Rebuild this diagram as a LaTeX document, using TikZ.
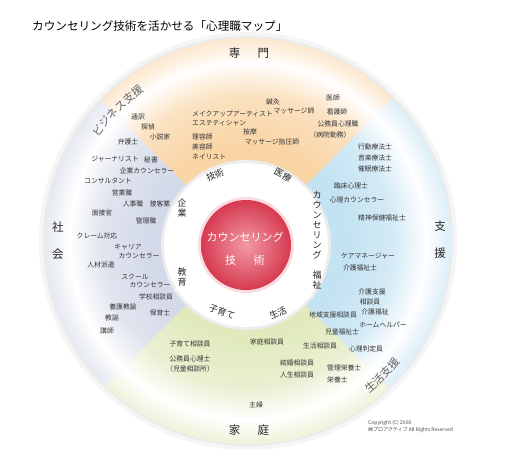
\documentclass[tikz,border=0pt]{standalone}
\usepackage{fontspec}
\setmainfont{Noto Sans CJK JP}
\usetikzlibrary{positioning,decorations.text}

\definecolor{senmon}{HTML}{F9D5A6}
\definecolor{shien}{HTML}{C3E2F2}
\definecolor{katei}{HTML}{E0EABD}
\definecolor{shakai}{HTML}{D3D9E8}
\definecolor{textgray}{HTML}{333333}
\definecolor{redin}{HTML}{F29AA6}
\definecolor{redout}{HTML}{D63A50}

% radial fill of one field: strong near the core, white at the rim, tinted band
\newcommand{\fieldshade}[2]{%
  \pgfdeclareradialshading{#1}{\pgfpoint{0bp}{0bp}}{%
    color(0bp)=(#2); color(12bp)=(#2); color(18bp)=(#2!70!white);
    color(21.4bp)=(#2!12!white); color(22bp)=(white);
    color(24bp)=(#2!40!white); color(25bp)=(#2!55!white); color(50bp)=(white)}}
\fieldshade{senmon-sh}{senmon}
\fieldshade{shien-sh}{shien}
\fieldshade{katei-sh}{katei}
\fieldshade{shakai-sh}{shakai}
\newcommand{\bandfont}{\fontsize{11}{12}\selectfont}

\begin{document}
\begin{tikzpicture}
  [x=1pt,y=-1pt,
   job/.style={font=\fontsize{6.8}{7.5}\selectfont,text=textgray,inner sep=0pt},
   cat/.style={font=\fontsize{11.5}{27}\selectfont,text=black!85,align=center,inner sep=0pt},
   ringlab/.style={font=\fontsize{9}{10}\selectfont,text=black!85,align=center,inner sep=0pt},
   core/.style={font=\fontsize{11}{23}\selectfont,text=white,align=center,inner sep=0pt},
   bandtext/.style={decorate,decoration={text along path,text align=center,
     text color=black!60,text={|\bandfont|#1}}}]

  \useasboundingbox[fill=white] (0,0) rectangle (512,448);
  \coordinate (C) at (248,241);
  \coordinate (K) at (246,245);

  % soft shadow round the map
  \fill[black!4] (C) circle (209);
  \fill[black!8] (C) circle (205);

  % four fields
  \foreach \f/\a in {senmon/-90,shien/0,katei/90,shakai/180}{
    \begin{scope}
      \clip (K) -- +({\a-45}:400) -- +({\a+45}:400) -- cycle;
      \shade[shading=\f-sh] (C) circle (203);
    \end{scope}
  }
  \draw[white,line width=1.5pt] (C) circle (178);

  % inner ring and core
  \fill[black!7] (K) circle (85);
  \fill[white] (K) circle (82);
  \fill[redout!18] (K) circle (48);
  \shade[inner color=redin,outer color=redout] (K) circle (45);

  \node[font=\fontsize{11.6}{13}\selectfont,anchor=west,inner sep=0pt] (title) at (32,26)
    {カウンセリング技術を活かせる「心理職マップ」};

  % outer band
  \node[cat] (senmon) at (249,53)  {専\hspace{1.5em}門};
  \node[cat] (shakai) at (58,241)  {社\\会};
  \node[cat] (shien)  at (440,240) {支\\援};
  \node[cat] (katei)  at (249,430) {家\hspace{1.5em}庭};
  \coordinate (bizstart)  at ([shift={(200:182)}]C);
  \coordinate (lifestart) at ([shift={(70:195)}]C);
  \path[bandtext=ビジネス支援] (bizstart) arc[start angle=200,end angle=250,radius=182];
  \path[bandtext=生活支援] (lifestart) arc[start angle=70,end angle=20,radius=195];

  % inner ring
  \node[ringlab,rotate=24]  (gijutsu)  at (215,175) {技術};
  \node[ringlab,rotate=-28] (iryou)    at (283,175) {医療};
  \node[ringlab]            (kigyou)   at (182,208) {企\\業};
  \node[ringlab]            (kyouiku)  at (182,277) {教\\育};
  \node[ringlab]            (counsel)  at (317,225) {カ\\ウ\\ン\\セ\\リ\\ン\\グ};
  \node[ringlab]            (fukushi)  at (317,280) {福\\祉};
  \node[ringlab,rotate=-20] (kosodate) at (222,312) {子育て};
  \node[ringlab,rotate=25]  (seikatsu) at (278,313) {生活};

  \node[core] (core) at (245,249) {カウンセリング\\技\hspace{1.6em}術};

  % business
  \node[job] (tsuyaku)  at (138,117) {通訳};
  \node[job] (tantei)   at (148,127) {探偵};
  \node[job] (shosetsu) at (160,137) {小説家};
  \node[job] (bengo)    at (128,142) {弁護士};
  \node[job] (journal)  at (115,159) {ジャーナリスト};
  \node[job] (hisho)    at (151,160) {秘書};
  \node[job] (kcounsel) at (147,171) {企業カウンセラー};
  \node[job] (consul)   at (108,181) {コンサルタント};

  % skill and medicine
  \node[job,anchor=west] (makeup)   at (192,114) {メイクアップアーティスト};
  \node[job,anchor=west] (esthe)    at (192,123) {エステティシャン};
  \node[job,anchor=west] (riyou)    at (192,137) {理容師};
  \node[job,anchor=west] (biyou)    at (192,147) {美容師};
  \node[job,anchor=west] (nail)     at (192,157) {ネイリスト};
  \node[job] (shinkyu)  at (273,102) {鍼灸};
  \node[job] (massage)  at (294,111) {マッサージ師};
  \node[job] (anma)     at (250,132) {按摩};
  \node[job] (shiatsu)  at (272,142) {マッサージ指圧師};
  \node[job] (ishi)     at (333,98)  {医師};
  \node[job] (kango)    at (337,112) {看護師};
  \node[job] (komuin)   at (338,124) {公務員心理職};
  \node[job] (byouin)   at (330,135) {（病院勤務）};

  % counselling and welfare
  \node[job] (koudou)   at (375,147) {行動療法士};
  \node[job] (ongaku)   at (375,158) {音楽療法士};
  \node[job] (saimin)   at (375,169) {催眠療法士};
  \node[job] (rinsho)   at (351,186) {臨床心理士};
  \node[job] (scounsel) at (357,200) {心理カウンセラー};
  \node[job] (seishin)  at (382,218) {精神保健福祉士};
  \node[job] (caremgr)  at (368,256) {ケアマネージャー};
  \node[job] (kaigo)    at (360,268) {介護福祉士};
  \node[job] (kshien)   at (372,292) {介護支援};
  \node[job] (soudan)   at (370,302) {相談員};
  \node[job] (kfuku)    at (375,312) {介護福祉};
  \node[job] (chiiki)   at (333,315) {地域支援相談員};
  \node[job] (helper)   at (383,325) {ホームヘルパー};
  \node[job] (jidou)    at (342,332) {児童福祉士};

  % home
  \node[job] (kosodan)  at (190,344) {子育て相談員};
  \node[job] (komuin2)  at (190,359) {公務員心理士};
  \node[job] (jisou)    at (190,369) {（児童相談所）};
  \node[job] (katei2)   at (267,342) {家庭相談員};
  \node[job] (seisou)   at (320,346) {生活相談員};
  \node[job] (hantei)   at (366,349) {心理判定員};
  \node[job] (kekkon)   at (297,363) {結婚相談員};
  \node[job] (jinsei)   at (297,375) {人生相談員};
  \node[job,anchor=west] (kanri)  at (327,368) {管理栄養士};
  \node[job,anchor=west] (eiyou)  at (327,380) {栄養士};
  \node[job] (shufu)    at (256,405) {主婦};

  % society
  \node[job] (eigyou)   at (122,193) {営業職};
  \node[job] (jinji)    at (133,204) {人事職};
  \node[job] (sekkyaku) at (160,204) {接客業};
  \node[job] (mensetsu) at (102,213) {面接官};
  \node[job] (kanrishoku) at (146,221) {管理職};
  \node[job] (claim)    at (97,236)  {クレーム対応};
  \node[job] (career)   at (128,247) {キャリア};
  \node[job] (ccounsel) at (139,256) {カウンセラー};
  \node[job] (haken)    at (101,265) {人材派遣};
  \node[job] (school)   at (135,277) {スクール};
  \node[job] (scounsel2) at (150,285) {カウンセラー};
  \node[job] (gakkou)   at (156,297) {学校相談員};
  \node[job] (yougo)    at (123,307) {養護教諭};
  \node[job] (hoiku)    at (160,313) {保育士};
  \node[job] (kyouyu)   at (112,318) {教諭};
  \node[job] (koushi)   at (107,331) {講師};

  \node[font=\fontsize{5}{7}\selectfont,text=black!70,align=left,anchor=north west,inner sep=0pt]
    (copy) at (368,420) {Copyright (C) 2008\\㈱プロアクティブ All Rights Reserved};
\end{tikzpicture}
\end{document}
